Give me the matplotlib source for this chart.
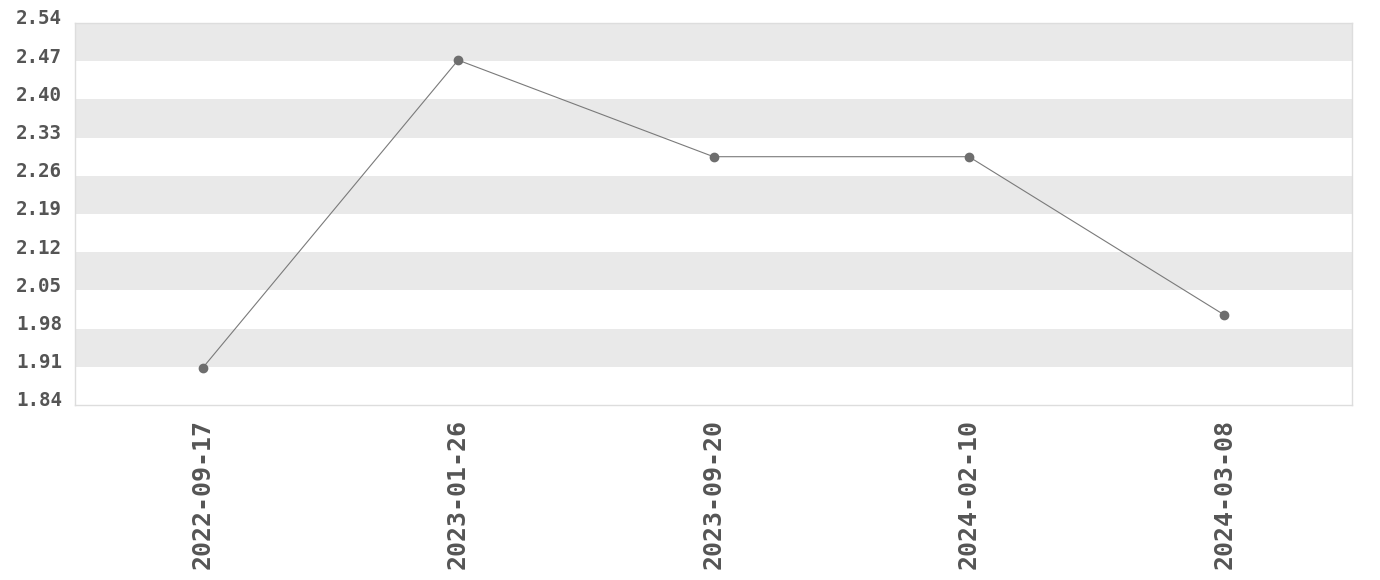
import matplotlib
matplotlib.use("Agg")
import matplotlib.pyplot as plt
import matplotlib.transforms as mtransforms
import numpy as np

dates = ["2022-09-17", "2023-01-26", "2023-09-20", "2024-02-10", "2024-03-08"]
values = [1.908, 2.472, 2.295, 2.295, 2.005]
y_ticks = [1.84, 1.91, 1.98, 2.05, 2.12, 2.19, 2.26, 2.33, 2.40, 2.47, 2.54]


def main():
    fig = plt.figure(figsize=(13.8, 5.8), dpi=100)
    ax = fig.add_axes([75 / 1380, 175 / 580, 1277 / 1380, 382 / 580])

    x = np.arange(len(dates))
    ax.set_xlim(-0.5, len(dates) - 0.5)
    ax.set_ylim(y_ticks[0], y_ticks[-1])

    # alternating stripes, gray on every other interval from the top
    for i in range(len(y_ticks) - 1):
        if i % 2 == 1:
            ax.axhspan(y_ticks[i], y_ticks[i + 1], color="#e9e9e9", lw=0, zorder=0)

    ax.plot(x, values, color="#7a7a7a", lw=0.8, marker="o", ms=6,
            mfc="#6e6e6e", mec="#6e6e6e", zorder=3)

    ax.set_xticks(x)
    ax.set_xticklabels(dates, rotation=90, fontsize=18, fontweight="bold",
                       family="DejaVu Sans Mono", color="#555555")
    ax.set_yticks(y_ticks)
    ax.set_yticklabels([f"{v:.2f}" for v in y_ticks], fontsize=13.8,
                       fontweight="bold", family="DejaVu Sans Mono", color="#555555")
    ax.tick_params(axis="both", length=0)
    ax.tick_params(axis="x", pad=10)
    ax.tick_params(axis="y", pad=9.5)

    offset = mtransforms.ScaledTranslation(0, 6 / 100, fig.dpi_scale_trans)
    for lab in ax.get_yticklabels():
        lab.set_transform(lab.get_transform() + offset)

    for side in ["top", "bottom", "left", "right"]:
        ax.spines[side].set_color("#dddddd")
        ax.spines[side].set_linewidth(1)

    fig.savefig("out.png", dpi=100, facecolor="white")
    plt.close(fig)


if __name__ == "__main__":
    main()
